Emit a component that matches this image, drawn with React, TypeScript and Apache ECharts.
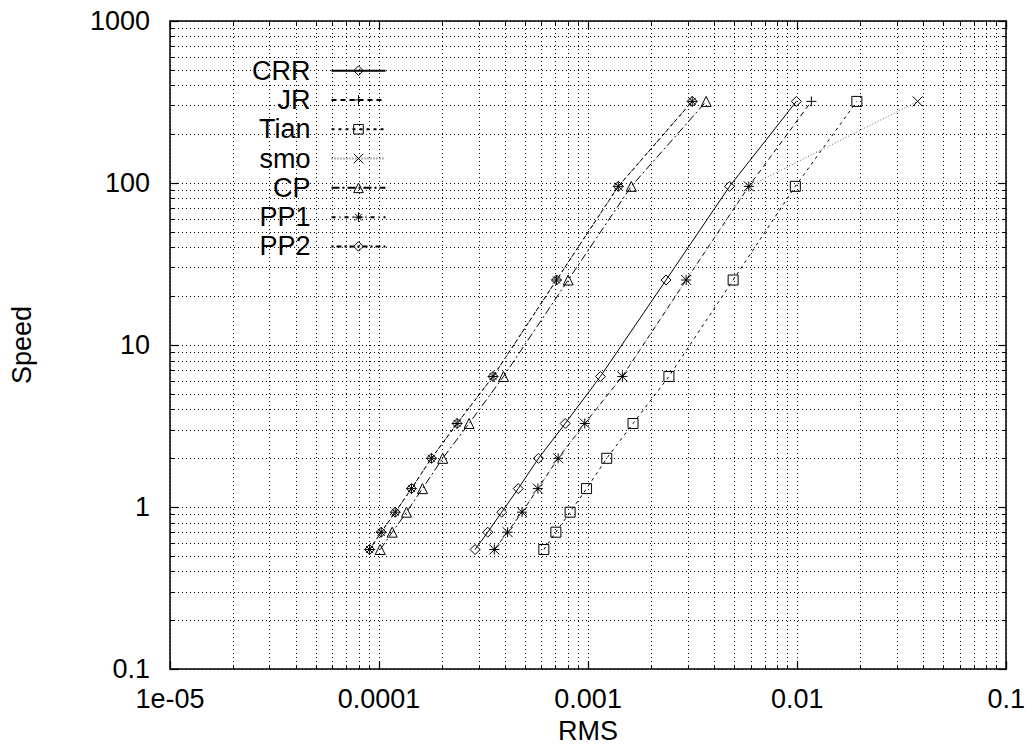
import React, { useEffect, useRef } from "react";
import * as echarts from "echarts";

const speeds = [0.547, 0.70, 0.93, 1.3, 2.0, 3.28, 6.4, 25.2, 95.4, 319];
const crrRms = [2.88e-4, 3.31e-4, 3.86e-4, 4.63e-4, 5.79e-4, 7.77e-4, 1.145e-3, 2.36e-3, 4.75e-3, 9.91e-3];
const jrRms = [3.56e-4, 4.12e-4, 4.83e-4, 5.75e-4, 7.19e-4, 9.64e-4, 1.458e-3, 2.945e-3, 5.87e-3, 1.169e-2];
const tianRms = [6.14e-4, 7.01e-4, 8.2e-4, 9.83e-4, 1.228e-3, 1.64e-3, 2.435e-3, 4.94e-3, 9.8e-3, 1.93e-2];
const smoRms = [3.56e-4, 4.12e-4, 4.83e-4, 5.75e-4, 7.19e-4, 9.64e-4, 1.458e-3, 2.945e-3, 5.87e-3, 3.77e-2];
const cpRms = [1.013e-4, 1.156e-4, 1.353e-4, 1.613e-4, 2.016e-4, 2.695e-4, 3.94e-4, 8.03e-4, 1.609e-3, 3.67e-3];
const pp1Rms = [9.01e-5, 1.024e-4, 1.195e-4, 1.429e-4, 1.78e-4, 2.362e-4, 3.51e-4, 7.06e-4, 1.395e-3, 3.147e-3];
const pp2Rms = [9.01e-5, 1.024e-4, 1.195e-4, 1.429e-4, 1.78e-4, 2.362e-4, 3.51e-4, 7.06e-4, 1.395e-3, 3.147e-3];

const xTickLabels = ["1e-05", "0.0001", "0.001", "0.01", "0.1"];
const yTickLabels = ["0.1", "1", "10", "100", "1000"];

const FONT = "'Liberation Sans', Arial, Helvetica, sans-serif";
const FS = 27;

const PLUS = "path://M0,5L10,5M5,0L5,10";
const CROSS = "path://M0,0L10,10M0,10L10,0";
const STAR = "path://M0,5L10,5M5,0L5,10M1.5,1.5L8.5,8.5M1.5,8.5L8.5,1.5";

function pairs(xs: number[]) {
  return xs.map((x, i) => [x, speeds[i]]);
}

export default function App() {
  const ref = useRef<HTMLDivElement>(null);
  useEffect(() => {
    if (!ref.current) return;
    const chart = echarts.init(ref.current, null, { renderer: "svg" });
    const gridDot = { type: [1, 3] as any, color: "#000", width: 1 };
    const baseX = {
      type: "log",
      logBase: 10,
      min: 1e-5,
      max: 0.1,
      axisLine: { show: true, onZero: false, lineStyle: { color: "#000", width: 1.5 } },
      axisTick: { show: true, inside: true, length: 8, lineStyle: { color: "#000", width: 1.2 } },
      minorTick: { show: true, splitNumber: 9, length: 4, lineStyle: { color: "#000", width: 1 } },
    };
    const baseY = {
      type: "log",
      logBase: 10,
      min: 0.1,
      max: 1000,
      axisLine: { show: true, onZero: false, lineStyle: { color: "#000", width: 1.5 } },
      axisTick: { show: true, inside: true, length: 8, lineStyle: { color: "#000", width: 1.2 } },
      minorTick: { show: true, splitNumber: 9, length: 4, lineStyle: { color: "#000", width: 1 } },
    };
    const mk = (
      name: string,
      xs: number[],
      symbol: string,
      dash: any,
      color = "#000",
      size: any = 10
    ) => ({
      name,
      type: "line",
      data: pairs(xs),
      symbol,
      symbolSize: size,
      showSymbol: true,
      lineStyle: { color, width: 1, type: dash },
      itemStyle: { color: "rgba(255,255,255,0)", borderColor: "#000", borderWidth: 1 },
      emphasis: { disabled: true },
      z: 3,
    });
    chart.setOption({
      animation: false,
      backgroundColor: "#fff",
      textStyle: { fontFamily: FONT },
      grid: { left: 170, right: 20, top: 21, bottom: 76, containLabel: false },
      legend: {
        show: true,
        orient: "vertical",
        align: "right",
        left: 252,
        top: 56,
        padding: 0,
        itemGap: 0,
        itemWidth: 54,
        itemHeight: 12,
        selectedMode: false,
        itemStyle: { color: "rgba(255,255,255,0)", borderColor: "#000", borderWidth: 1 },
        textStyle: { fontSize: FS, color: "#000", fontFamily: FONT, lineHeight: 29.3, padding: [0, 16, 0, 0] },
        data: ["CRR", "JR", "Tian", "smo", "CP", "PP1", "PP2"],
      },
      xAxis: [
        {
          ...baseX,
          position: "bottom",
          splitLine: { show: true, lineStyle: gridDot },
          minorSplitLine: { show: true, lineStyle: gridDot },
          axisLabel: {
            show: true,
            fontSize: FS,
            color: "#000",
            margin: 16,
            fontFamily: FONT,
            formatter: (v: number) => xTickLabels[Math.round(Math.log10(v)) + 5] ?? "",
          },
          name: "RMS",
          nameLocation: "middle",
          nameGap: 45,
          nameTextStyle: { fontSize: FS, color: "#000", fontFamily: FONT },
        },
        {
          ...baseX,
          position: "top",
          splitLine: { show: false },
          minorSplitLine: { show: false },
          axisLabel: { show: false },
        },
      ],
      yAxis: [
        {
          ...baseY,
          position: "left",
          splitLine: { show: true, lineStyle: gridDot },
          minorSplitLine: { show: true, lineStyle: gridDot },
          axisLabel: {
            show: true,
            fontSize: FS,
            color: "#000",
            margin: 20,
            fontFamily: FONT,
            formatter: (v: number) => yTickLabels[Math.round(Math.log10(v)) + 1] ?? "",
          },
          name: "Speed",
          nameLocation: "middle",
          nameGap: 135,
          nameRotate: 90,
          nameTextStyle: { fontSize: FS, color: "#000", fontFamily: FONT },
        },
        {
          ...baseY,
          position: "right",
          splitLine: { show: false },
          minorSplitLine: { show: false },
          axisLabel: { show: false },
        },
      ],
      series: [
        mk("CRR", crrRms, "diamond", "solid"),
        mk("JR", jrRms, PLUS, [5, 4]),
        mk("Tian", tianRms, "rect", [3, 4]),
        mk("smo", smoRms, CROSS, [1, 2], "#666"),
        mk("CP", cpRms, "triangle", [8, 3, 2, 3]),
        mk("PP1", pp1Rms, STAR, [4, 4, 1, 4]),
        mk("PP2", pp2Rms, "diamond", [2, 3, 5, 3]),
      ],
    });
    return () => chart.dispose();
  }, []);
  return (
    <div
      ref={ref}
      style={{ position: "fixed", left: 0, top: 0, width: 1028, height: 749, background: "#fff" }}
    />
  );
}
